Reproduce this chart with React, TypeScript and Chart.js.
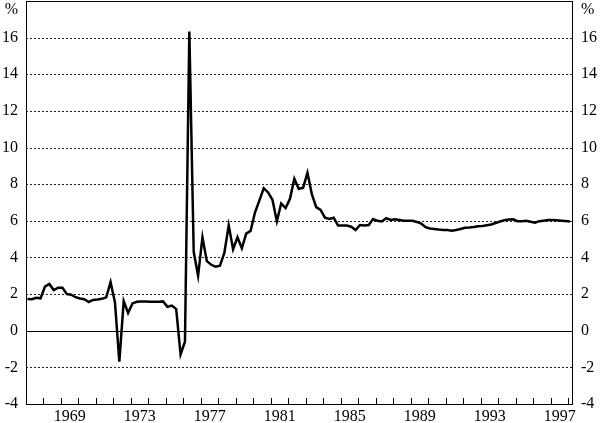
import React, { useEffect, useRef } from 'react';
import { Chart, registerables } from 'chart.js';

Chart.register(...registerables);

// ---- Data (quarterly, %), first point 1967 Q1 ----
const START_YEAR = 1967;
const rate1967_1971 = [1.73, 1.72, 1.8, 1.77, 2.41, 2.55, 2.22, 2.35, 2.35, 2.0, 1.97, 1.83, 1.76, 1.72, 1.57, 1.68, 1.7, 1.74, 1.82, 2.65];
const rate1972_1976 = [1.55, -1.69, 1.62, 0.97, 1.49, 1.58, 1.6, 1.6, 1.58, 1.58, 1.58, 1.6, 1.31, 1.37, 1.18, -1.29, -0.6, 16.34, 4.3, 3.0];
const rate1977_1981 = [5.1, 3.8, 3.6, 3.5, 3.55, 4.25, 5.75, 4.45, 5.1, 4.5, 5.3, 5.45, 6.45, 7.1, 7.78, 7.55, 7.15, 5.98, 6.95, 6.7];
const rate1982_1986 = [7.2, 8.3, 7.75, 7.8, 8.62, 7.45, 6.75, 6.6, 6.17, 6.1, 6.17, 5.74, 5.74, 5.74, 5.68, 5.5, 5.77, 5.74, 5.77, 6.1];
const rate1987_1991 = [6.0, 5.96, 6.14, 6.05, 6.09, 6.05, 6.01, 6.0, 6.0, 5.94, 5.85, 5.65, 5.58, 5.55, 5.52, 5.5, 5.5, 5.46, 5.5, 5.55];
const rate1992_1996 = [5.62, 5.63, 5.66, 5.7, 5.72, 5.76, 5.8, 5.88, 5.96, 6.03, 6.07, 6.08, 5.98, 5.98, 6.0, 5.95, 5.9, 5.98, 6.01, 6.04];
const rate1997_1998 = [6.05, 6.03, 6.01, 5.99, 5.96];

const Y_TICKS = [-4, -2, 0, 2, 4, 6, 8, 10, 12, 14, 16];
const Y_MIN = -4;
const Y_MAX = 18;
const X_LABEL_YEARS = [1969, 1973, 1977, 1981, 1985, 1989, 1993, 1997];
const X_MIN = 1967;
const X_MAX = 1998.2;

const FONT = { family: '"Liberation Serif", "Times New Roman", serif', size: 16 };

const allRates = [
  ...rate1967_1971, ...rate1972_1976, ...rate1977_1981, ...rate1982_1986,
  ...rate1987_1991, ...rate1992_1996, ...rate1997_1998,
];
// plotted at the middle month of each quarter (Feb, May, Aug, Nov)
const points = allRates.map((v, i) => ({ x: START_YEAR + (3 * i + 1) / 12, y: v }));

const framePlugin = {
  id: 'frameAndGrid',
  beforeDatasetsDraw(chart: any) {
    const { ctx, chartArea: a, scales } = chart;
    const y = scales.y;
    const x = scales.x;
    ctx.save();
    for (const v of Y_TICKS) {
      if (v === Y_MIN) continue;
      const py = Math.round(y.getPixelForValue(v)) + 0.5;
      ctx.beginPath();
      if (v === 0) {
        ctx.setLineDash([]);
        ctx.strokeStyle = '#000';
      } else {
        ctx.setLineDash([2, 2]);
        ctx.strokeStyle = '#222';
      }
      ctx.lineWidth = 1;
      ctx.moveTo(a.left, py);
      ctx.lineTo(a.right, py);
      ctx.stroke();
    }
    ctx.setLineDash([]);
    ctx.strokeStyle = '#000';
    ctx.lineWidth = 1;
    for (let yr = Math.ceil(x.min); yr <= x.max; yr++) {
      const px = Math.round(x.getPixelForValue(yr)) + 0.5;
      ctx.beginPath();
      ctx.moveTo(px, a.bottom);
      ctx.lineTo(px, a.bottom - 6);
      ctx.stroke();
    }
    ctx.restore();
  },
  afterDraw(chart: any) {
    const { ctx, chartArea: a } = chart;
    ctx.save();
    ctx.strokeStyle = '#000';
    ctx.lineWidth = 1;
    ctx.strokeRect(Math.round(a.left) + 0.5, Math.round(a.top) + 0.5, Math.round(a.right - a.left), Math.round(a.bottom - a.top));
    ctx.fillStyle = '#000';
    ctx.font = `${FONT.size}px ${FONT.family}`;
    ctx.textBaseline = 'middle';
    ctx.textAlign = 'right';
    ctx.fillText('%', a.left - 8, a.top + 9);
    ctx.textAlign = 'left';
    ctx.fillText('%', a.right + 9, a.top + 9);
    ctx.restore();
  },
};

const yScale = (position: 'left' | 'right', width: number) => ({
  type: 'linear',
  position,
  min: Y_MIN,
  max: Y_MAX,
  grid: { display: false, drawTicks: false },
  border: { display: false },
  ticks: {
    padding: position === 'left' ? 8 : 9,
    color: '#000',
    font: FONT,
    callback: (v: any) => String(v),
  },
  afterBuildTicks: (s: any) => {
    s.ticks = Y_TICKS.map((v) => ({ value: v }));
  },
  afterFit: (s: any) => {
    s.width = width;
    s.paddingTop = 0;
    s.paddingBottom = 0;
  },
});

export default function App() {
  const ref = useRef<HTMLCanvasElement>(null);
  useEffect(() => {
    if (!ref.current) return;
    const chart = new Chart(ref.current, {
      type: 'line',
      data: {
        datasets: [
          {
            data: points,
            borderColor: '#000',
            borderWidth: 2.5,
            pointRadius: 0,
            tension: 0,
            fill: false,
          },
        ],
      },
      options: {
        animation: false,
        responsive: false,
        layout: { padding: { top: 1, left: 0, right: 0, bottom: 0 } },
        plugins: { legend: { display: false }, tooltip: { enabled: false } },
        scales: {
          x: {
            type: 'linear',
            min: X_MIN,
            max: X_MAX,
            grid: { display: false, drawTicks: false },
            border: { display: false },
            ticks: {
              padding: 3,
              maxRotation: 0,
              autoSkip: false,
              color: '#000',
              font: FONT,
              callback: (v: any) => String(Math.floor(Number(v))),
            },
            afterBuildTicks: (s: any) => {
              s.ticks = X_LABEL_YEARS.map((yr) => ({ value: yr + 0.5 }));
            },
            afterFit: (s: any) => {
              s.height = 19;
              s.paddingLeft = 0;
              s.paddingRight = 0;
            },
          },
          y: yScale('left', 26),
          y2: yScale('right', 28),
        },
      } as any,
      plugins: [framePlugin],
    });
    return () => chart.destroy();
  }, []);
  return (
    <div style={{ position: 'absolute', left: 0, top: 0, width: 600, height: 423, background: '#fff' }}>
      <canvas ref={ref} width={600} height={423} style={{ display: 'block' }} />
    </div>
  );
}
